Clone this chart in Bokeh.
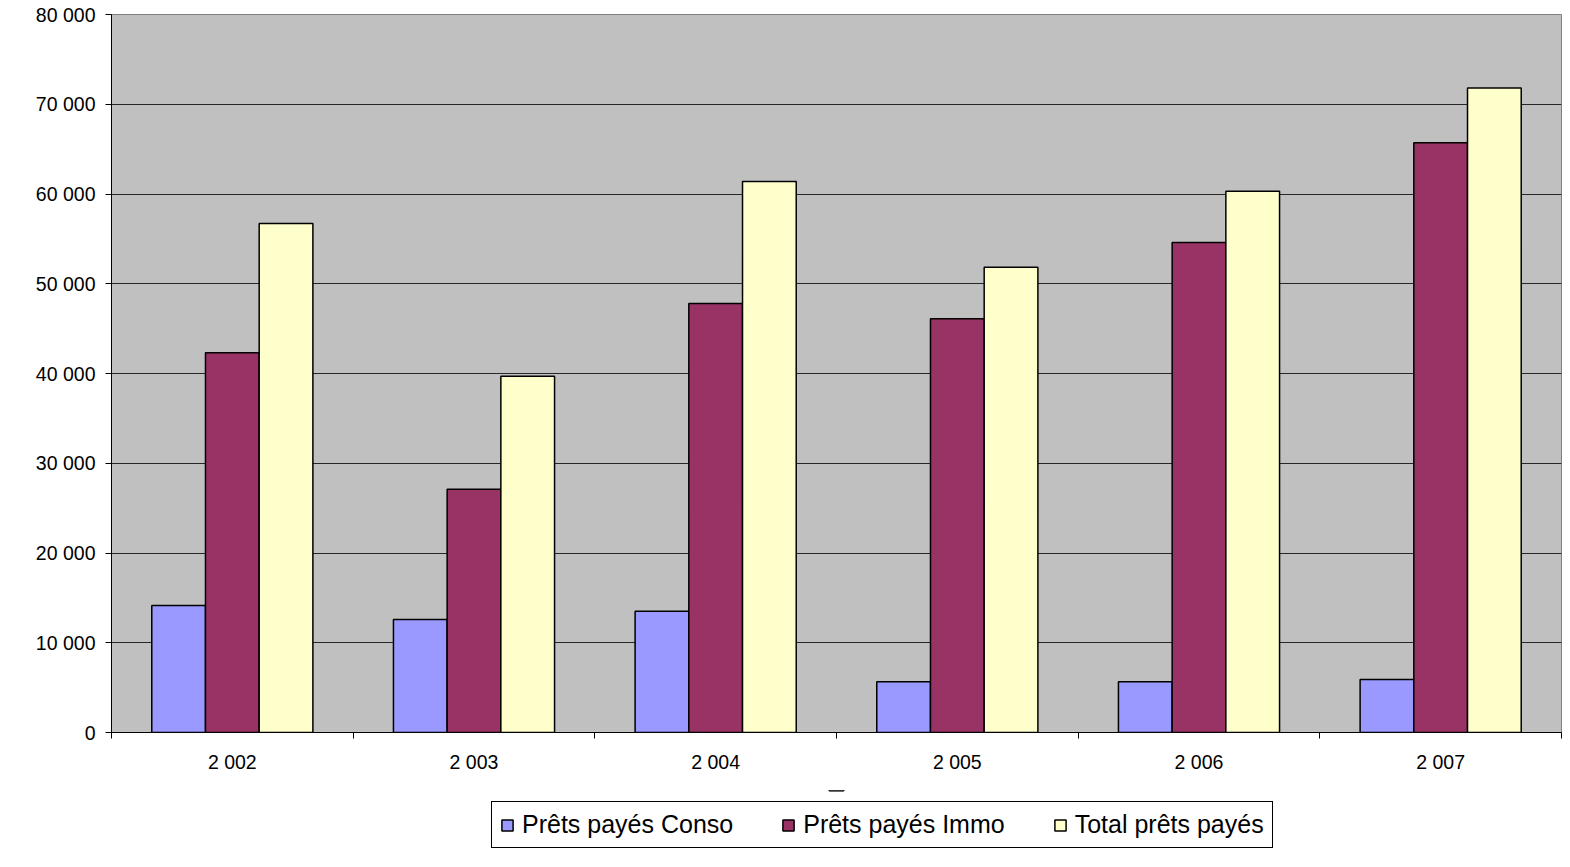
from bokeh.plotting import figure
from bokeh.layouts import column
from bokeh.models import ColumnDataSource, FixedTicker, Range1d, Legend, LegendItem
from bokeh.embed import file_html
from bokeh.resources import INLINE

years = ["2 002", "2 003", "2 004", "2 005", "2 006", "2 007"]
conso = [14150, 12600, 13500, 5650, 5650, 5900]
immo = [42300, 27100, 47800, 46100, 54600, 65700]
total = [56700, 39700, 61400, 51850, 60300, 71800]
series_names = ["Prêts payés Conso", "Prêts payés Immo", "Total prêts payés"]
colors = ["#9999FF", "#993366", "#FFFFCC"]
y_ticks = [0, 10000, 20000, 30000, 40000, 50000, 60000, 70000, 80000]
y_labels = ["0", "10 000", "20 000", "30 000", "40 000", "50 000", "60 000", "70 000", "80 000"]

FONT = "Liberation Sans"
W = 1562
H_MAIN = 790
H_LEG = 69

p = figure(width=W, height=H_MAIN, output_backend="svg", toolbar_location=None,
           x_range=Range1d(0, len(years)), y_range=Range1d(0, 80000),
           min_border_left=111, min_border_right=1, min_border_top=14, min_border_bottom=58)
p.background_fill_color = "#C0C0C0"
p.border_fill_color = "white"
p.outline_line_color = "#808080"
p.outline_line_width = 1

centers = [i + 0.5 for i in range(len(years))]
bw = 1 / 4.5
offsets = [-bw, 0, bw]
data = [conso, immo, total]
for k in range(3):
    src = ColumnDataSource(dict(x=[c + offsets[k] for c in centers], top=data[k]))
    p.vbar(x="x", top="top", width=bw, bottom=0, source=src,
           fill_color=colors[k], line_color="black", line_width=1.5)

# y axis
p.yaxis.ticker = FixedTicker(ticks=y_ticks)
p.yaxis.major_label_overrides = {t: l for t, l in zip(y_ticks, y_labels)}
p.yaxis.major_label_text_font = FONT
p.yaxis.major_label_text_font_size = "19.5px"
p.yaxis.major_label_text_color = "black"
p.yaxis.axis_line_color = "black"
p.yaxis.major_tick_line_color = "black"
p.yaxis.major_tick_out = 6
p.yaxis.major_tick_in = 0
p.yaxis.minor_tick_line_color = None
p.yaxis.major_label_standoff = 10

# x axis
p.xaxis.ticker = FixedTicker(ticks=centers, minor_ticks=list(range(len(years) + 1)))
p.xaxis.major_label_overrides = {c: y for c, y in zip(centers, years)}
p.xaxis.major_label_text_font = FONT
p.xaxis.major_label_text_font_size = "19.5px"
p.xaxis.major_label_text_color = "black"
p.xaxis.axis_line_color = "black"
p.xaxis.major_tick_line_color = None
p.xaxis.minor_tick_line_color = "black"
p.xaxis.minor_tick_out = 6
p.xaxis.minor_tick_in = 0
p.xaxis.major_label_standoff = 12

p.xgrid.grid_line_color = None
p.ygrid.ticker = FixedTicker(ticks=y_ticks)
p.ygrid.grid_line_color = "black"
p.ygrid.grid_line_width = 1
p.ygrid.grid_line_alpha = 0.8

# legend figure (legend drawn below the chart); frame aligned with main frame
lf = figure(width=W, height=H_LEG, output_backend="svg", toolbar_location=None,
            x_range=Range1d(0, 1), y_range=Range1d(0, 1),
            min_border_left=111, min_border_right=1, min_border_top=0, min_border_bottom=0,
            x_axis_location=None, y_axis_location=None)
lf.outline_line_color = None
lf.background_fill_color = "white"
lf.border_fill_color = "white"
lf.xgrid.grid_line_color = None
lf.ygrid.grid_line_color = None
leg_renderers = []
for k in range(3):
    r = lf.vbar(x=[0.5], top=[11], bottom=[10], width=0.01,
                fill_color=colors[k], line_color="black", line_width=1.5)
    leg_renderers.append(r)

legend = Legend(items=[LegendItem(label=series_names[k], renderers=[leg_renderers[k]]) for k in range(3)],
                orientation="horizontal", location=(380, 11),
                label_text_font=FONT, label_text_font_size="25px", label_text_color="black",
                glyph_width=14, glyph_height=14, spacing=48, label_standoff=8,
                padding=8, margin=0,
                border_line_color="black", border_line_width=1, border_line_alpha=1,
                background_fill_color="white", background_fill_alpha=1)
lf.add_layout(legend, "center")

layout = column(p, lf, spacing=0)
html = file_html(layout, INLINE)
open("out.html", "w").write(html)
